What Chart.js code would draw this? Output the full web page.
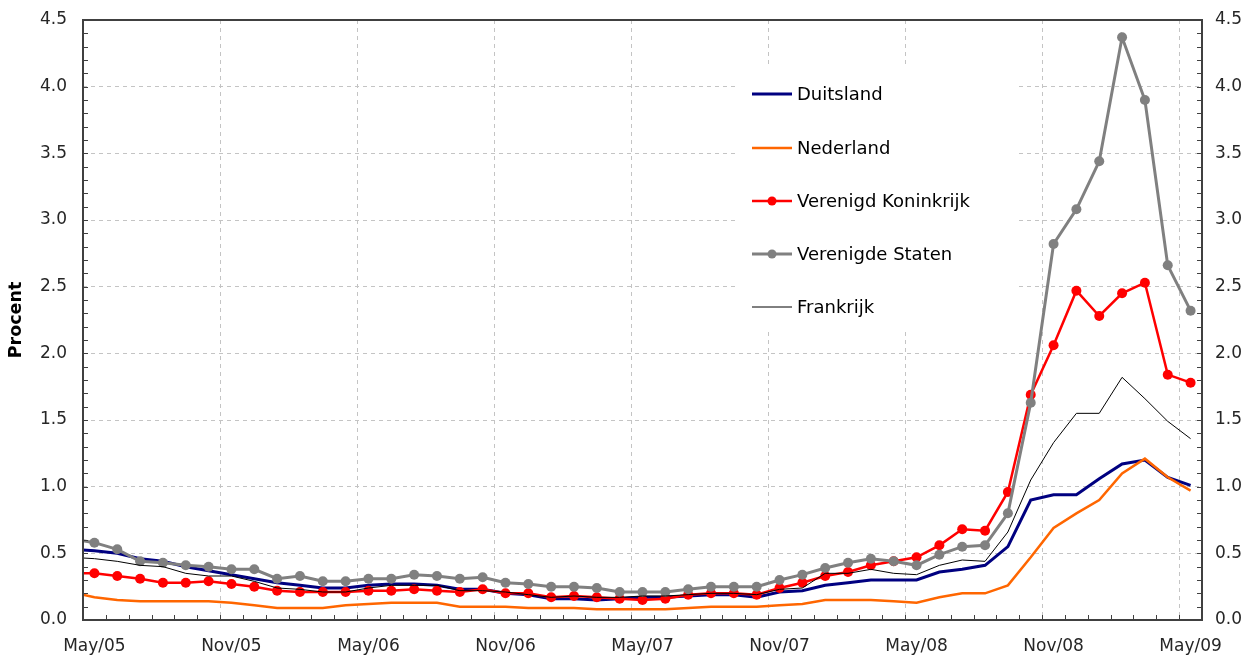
<!DOCTYPE html>
<html>
<head>
<meta charset="utf-8">
<script src="https://cdn.jsdelivr.net/npm/chart.js@4.4.1/dist/chart.umd.min.js"></script>
<style>
	html, body { margin: 0; padding: 0; background: #fff; }
	#wrap { width: 1256px; height: 663px; position: relative; }
</style>
</head>
<body>
<div id="wrap"><canvas id="rentes"></canvas></div>
<script>
'use strict'

// monthly values, Apr/05 .. May/09 (the Apr/05 point sits left of the plot edge)
const tickLabels = ['May/05', 'Nov/05', 'May/06', 'Nov/06', 'May/07', 'Nov/07', 'May/08', 'Nov/08', 'May/09'];
const seriesNames = ['Duitsland', 'Nederland', 'Verenigd Koninkrijk', 'Verenigde Staten', 'Frankrijk'];

const duitsland = [
	0.53, 0.52, 0.50, 0.46, 0.44, 0.40, 0.37, 0.34, 0.31, 0.28,
	0.26, 0.24, 0.24, 0.26, 0.27, 0.27, 0.26, 0.23, 0.23, 0.20,
	0.19, 0.16, 0.16, 0.15, 0.16, 0.17, 0.17, 0.18, 0.19, 0.19,
	0.17, 0.21, 0.22, 0.26, 0.28, 0.30, 0.30, 0.30, 0.36, 0.38,
	0.41, 0.55, 0.90, 0.94, 0.94, 1.06, 1.17, 1.20, 1.07, 1.01
];
const nederland = [
	0.21, 0.17, 0.15, 0.14, 0.14, 0.14, 0.14, 0.13, 0.11, 0.09,
	0.09, 0.09, 0.11, 0.12, 0.13, 0.13, 0.13, 0.10, 0.10, 0.10,
	0.09, 0.09, 0.09, 0.08, 0.08, 0.08, 0.08, 0.09, 0.10, 0.10,
	0.10, 0.11, 0.12, 0.15, 0.15, 0.15, 0.14, 0.13, 0.17, 0.20,
	0.20, 0.26, 0.47, 0.69, 0.80, 0.90, 1.10, 1.21, 1.07, 0.97
];
const verenigdKoninkrijk = [
	0.35, 0.35, 0.33, 0.31, 0.28, 0.28, 0.29, 0.27, 0.25, 0.22,
	0.21, 0.21, 0.21, 0.22, 0.22, 0.23, 0.22, 0.21, 0.23, 0.20,
	0.20, 0.17, 0.18, 0.17, 0.16, 0.15, 0.16, 0.19, 0.20, 0.20,
	0.19, 0.24, 0.28, 0.33, 0.36, 0.41, 0.44, 0.47, 0.56, 0.68,
	0.67, 0.96, 1.69, 2.06, 2.47, 2.28, 2.45, 2.53, 1.84, 1.78
];
const verenigdeStaten = [
	0.61, 0.58, 0.53, 0.44, 0.43, 0.41, 0.40, 0.38, 0.38, 0.31,
	0.33, 0.29, 0.29, 0.31, 0.31, 0.34, 0.33, 0.31, 0.32, 0.28,
	0.27, 0.25, 0.25, 0.24, 0.21, 0.21, 0.21, 0.23, 0.25, 0.25,
	0.25, 0.30, 0.34, 0.39, 0.43, 0.46, 0.44, 0.41, 0.49, 0.55,
	0.56, 0.80, 1.63, 2.82, 3.08, 3.44, 4.37, 3.90, 2.66, 2.32
];
const frankrijk = [
	0.47, 0.46, 0.44, 0.41, 0.40, 0.35, 0.33, 0.33, 0.29, 0.24,
	0.23, 0.21, 0.21, 0.24, 0.26, 0.26, 0.26, 0.22, 0.22, 0.21,
	0.19, 0.17, 0.18, 0.17, 0.17, 0.18, 0.18, 0.19, 0.20, 0.20,
	0.19, 0.23, 0.24, 0.35, 0.35, 0.38, 0.35, 0.34, 0.41, 0.45,
	0.44, 0.66, 1.05, 1.33, 1.55, 1.55, 1.82, 1.66, 1.49, 1.36
];

const yTicks = [0, 0.5, 1, 1.5, 2, 2.5, 3, 3.5, 4, 4.5];
const monthCount = tickLabels.length * 6 - 5;

// month i (0 = May/05) is drawn at the middle of its month slot
function toPoints(values) {
	return values.map((v, i) => ({ x: i - 1 + 0.5, y: v }));
}

const frameColor = '#404040';
const textColor = '#262626';
const gridColor = '#c4c4c4';

Chart.defaults.font.family = "'DejaVu Sans', sans-serif";
Chart.defaults.font.size = 17;
Chart.defaults.color = textColor;

let lineSet = function(label, values, color, width, marker, order) {
	return {
		label: label,
		data: toPoints(values),
		borderColor: color,
		backgroundColor: color,
		borderWidth: width,
		pointRadius: marker ? 5 : 0,
		pointHoverRadius: marker ? 5 : 0,
		pointBorderWidth: 0,
		pointStyle: 'circle',
		tension: 0,
		clip: 0,
		order: order,
		marker: marker,
	};
};

const legendBox = {
	id: 'legendBox',
	beforeDatasetsDraw(chart) {
		const ctx = chart.ctx;
		ctx.save();
		ctx.fillStyle = '#ffffff';
		ctx.fillRect(738, 65, 277, 265);
		const rowY = [94, 148, 201, 254, 307];
		chart.data.datasets.forEach((ds, i) => {
			const y = rowY[i];
			ctx.strokeStyle = ds.borderColor;
			ctx.lineWidth = ds.borderWidth;
			ctx.beginPath();
			ctx.moveTo(752, y);
			ctx.lineTo(792, y);
			ctx.stroke();
			if (ds.marker) {
				ctx.fillStyle = ds.borderColor;
				ctx.beginPath();
				ctx.arc(772, y, 4.5, 0, Math.PI * 2);
				ctx.fill();
			}
			ctx.fillStyle = '#000';
			ctx.font = "18px 'DejaVu Sans', sans-serif";
			ctx.textBaseline = 'middle';
			ctx.textAlign = 'left';
			ctx.fillText(ds.label, 797, y + 1);
		});
		ctx.restore();
	},
};

const frameTicks = {
	id: 'frameTicks',
	afterDraw(chart) {
		const ctx = chart.ctx;
		const area = chart.chartArea;
		const xs = chart.scales.x;
		const ys = chart.scales.y;
		ctx.save();
		ctx.strokeStyle = frameColor;
		ctx.lineWidth = 1;
		ctx.beginPath();
		for (let m = 1; m < monthCount; m++) {
			const x = Math.round(xs.getPixelForValue(m)) + 0.5;
			ctx.moveTo(x, area.bottom);
			ctx.lineTo(x, area.bottom - 5);
		}
		for (let t = 1; t < 45; t++) {
			const y = Math.round(ys.getPixelForValue(t / 10)) + 0.5;
			ctx.moveTo(area.left, y);
			ctx.lineTo(area.left + 5, y);
			ctx.moveTo(area.right, y);
			ctx.lineTo(area.right - 5, y);
		}
		ctx.stroke();
		ctx.lineWidth = 2;
		ctx.strokeRect(area.left, area.top, area.right - area.left, area.bottom - area.top);
		ctx.restore();
	},
};

let yAxis = function(position, width, grid) {
	return {
		type: 'linear',
		position: position,
		min: yTicks[0],
		max: yTicks[yTicks.length - 1],
		afterFit(scale) {
			scale.width = width;
			scale.paddingTop = 0;
			scale.paddingBottom = 0;
		},
		afterBuildTicks(scale) {
			scale.ticks = yTicks.map((v) => ({ value: v }));
		},
		border: { display: false, dash: [4, 4] },
		grid: {
			display: grid,
			drawTicks: false,
			color: (c) => c.tick && c.tick.value > 0 && c.tick.value < 4.5 ? gridColor : 'rgba(0,0,0,0)',
		},
		ticks: {
			padding: position === 'left' ? 16 : 13,
			callback: (v) => v.toFixed(1),
		},
	};
};

let chart = new Chart(document.getElementById('rentes'), {
	type: 'line',
	data: {
		datasets: [
			lineSet(seriesNames[0], duitsland, '#000080', 3, false, 5),
			lineSet(seriesNames[1], nederland, '#ff6600', 2.5, false, 4),
			lineSet(seriesNames[2], verenigdKoninkrijk, '#ff0000', 2.5, true, 3),
			lineSet(seriesNames[3], verenigdeStaten, '#808080', 3, true, 2),
			lineSet(seriesNames[4], frankrijk, '#000000', 1, false, 1),
		],
	},
	options: {
		responsive: true,
		maintainAspectRatio: false,
		animation: false,
		devicePixelRatio: 1,
		layout: { padding: { top: 20, left: 0, right: 0, bottom: 0 } },
		plugins: {
			legend: { display: false },
			tooltip: { enabled: false },
		},
		scales: {
			x: {
				type: 'linear',
				min: 0,
				max: monthCount,
				afterFit(scale) {
					scale.height = 43;
					scale.paddingLeft = 0;
					scale.paddingRight = 0;
				},
				afterBuildTicks(scale) {
					scale.ticks = tickLabels.map((t, i) => ({ value: i * 6 }));
				},
				border: { display: false, dash: [4, 4] },
				grid: {
					drawTicks: false,
					color: (c) => c.tick && c.tick.value > 0 ? gridColor : 'rgba(0,0,0,0)',
				},
				ticks: {
					autoSkip: false,
					maxRotation: 0,
					minRotation: 0,
					padding: 16,
					labelOffset: 11.4,
					callback: (v) => tickLabels[Math.round(v / 6)],
				},
			},
			y: Object.assign(yAxis('left', 83, true), {
				title: {
					display: true,
					text: 'Procent',
					color: '#000',
					font: { size: 17.5, weight: 'bold' },
					padding: { top: 6, bottom: 0 },
				},
			}),
			y2: yAxis('right', 54, false),
		},
	},
	plugins: [legendBox, frameTicks],
});
</script>
</body>
</html>
